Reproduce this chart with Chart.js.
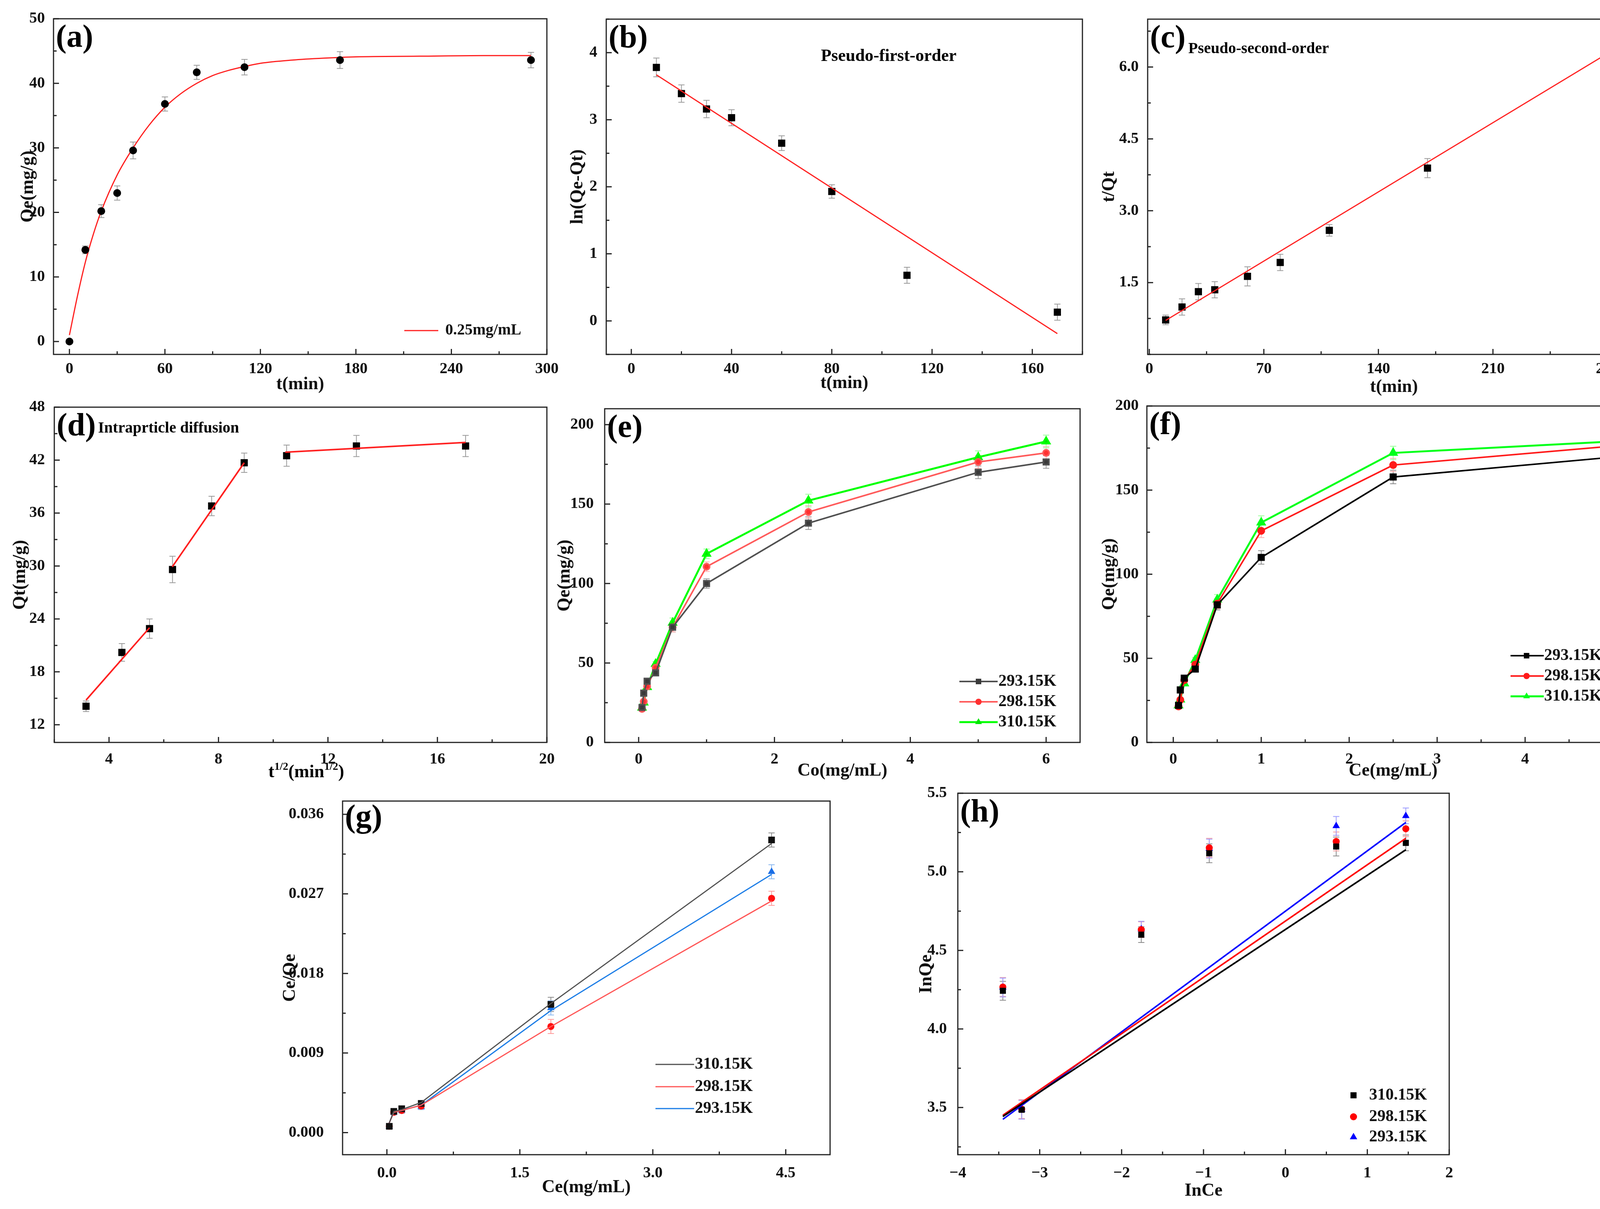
<!DOCTYPE html>
<html>
<head>
<meta charset="utf-8">
<script src="https://cdn.jsdelivr.net/npm/chart.js@4.4.1/dist/chart.umd.min.js"></script>
<style>
  html, body { margin: 0; padding: 0; background: #fff; }
  body { width: 4224px; height: 3094px; position: relative; overflow: hidden; }
  canvas { position: absolute; }
</style>
</head>
<body>
<script>
// ---------- (a) adsorption kinetics ----------
const tA = [0, 10, 20, 30, 40, 60, 80, 110, 170, 290];
const qtA = [0, 14.2, 20.2, 23.0, 29.6, 36.8, 41.7, 42.5, 43.6, 43.6];
const errA = [0.3, 0.6, 1.0, 1.1, 1.3, 1.1, 1.1, 1.2, 1.3, 1.2];
const fitTA = [0, 5, 10, 15, 20, 30, 40, 50, 60, 70, 80, 90, 100, 110, 120, 140, 160, 180, 220, 260, 290];
const fitQA = [1.0, 7.0, 12.3, 16.6, 20.2, 25.8, 30.0, 33.5, 36.3, 38.4, 40.0, 41.2, 42.0, 42.6, 43.1, 43.6, 43.9, 44.1, 44.2, 44.3, 44.3];

// ---------- (b) pseudo-first-order ----------
const tB = [10, 20, 30, 40, 60, 80, 110, 170];
const lnB = [3.78, 3.39, 3.16, 3.03, 2.65, 1.93, 0.68, 0.13];
const errB = [0.14, 0.13, 0.13, 0.12, 0.11, 0.1, 0.12, 0.12];
const fitTB = [10, 170];
const fitLnB = [3.67, -0.19];

// ---------- (c) pseudo-second-order ----------
const tC = [10, 20, 30, 40, 60, 80, 110, 170, 290];
const tqC = [0.72, 0.99, 1.31, 1.35, 1.63, 1.92, 2.59, 3.89, 6.63];
const errC = [0.1, 0.17, 0.17, 0.17, 0.2, 0.17, 0.12, 0.2, 0.12];
const fitTC = [10, 290];
const fitTqC = [0.71, 6.49];

// ---------- (d) intraparticle diffusion ----------
const rtD = [3.16, 4.47, 5.48, 6.32, 7.75, 8.94, 10.49, 13.04, 17.03];
const qtD = [14.1, 20.2, 22.9, 29.6, 36.8, 41.7, 42.5, 43.6, 43.6];
const errD = [0.6, 1.0, 1.1, 1.5, 1.1, 1.1, 1.2, 1.2, 1.2];
const seg1X = [3.16, 5.48], seg1Y = [14.8, 23.0];
const seg2X = [6.31, 8.94], seg2Y = [29.9, 41.7];
const seg3X = [10.44, 17.03], seg3Y = [42.9, 44.0];

// ---------- (e) Qe vs Co ----------
const temps = ['293.15K', '298.15K', '310.15K'];
const coE = [0.05, 0.075, 0.125, 0.25, 0.5, 1, 2.5, 5, 6];
const qe293E = [22.0, 31.0, 38.5, 43.8, 72.5, 100.0, 138.0, 170.0, 176.5];
const qe298E = [21.1, 25.7, 35.2, 47.0, 72.5, 110.6, 145.0, 176.5, 182.2];
const qe310E = [21.9, 25.1, 34.8, 49.4, 75.3, 118.7, 152.2, 179.5, 189.4];
const errE = [1, 1, 1.5, 1.5, 3, 3, 4, 4, 4];

// ---------- (f) Qe vs Ce ----------
const ceF = [0.06, 0.08, 0.125, 0.25, 0.5, 1, 2.5, 5];
const qe293F = [22.0, 31.2, 38.2, 43.6, 81.8, 110.0, 157.8, 169.6];
const qe298F = [21.4, 25.3, 37.0, 46.3, 82.5, 125.8, 164.9, 176.2];
const qe310F = [22.0, 25.5, 35.1, 49.0, 84.9, 130.7, 172.1, 178.9];
const errF = [1, 1, 1.5, 1.5, 3, 4, 4, 4];

// ---------- (g) Langmuir ----------
const tempsG = ['310.15K', '298.15K', '293.15K'];
const ceG = [0.027, 0.078, 0.167, 0.387, 1.85, 4.34];
const r310G = [0.00071, 0.0024, 0.0027, 0.0033, 0.0145, 0.0331];
const r298G = [0.00071, 0.0023, 0.0025, 0.0030, 0.0120, 0.0265];
const r293G = [0.00071, 0.0023, 0.0025, 0.0029, 0.0141, 0.0295];
const line310G = [0.0011, 0.0024, 0.0026, 0.0034, 0.0146, 0.0327];
const line298G = [0.0011, 0.0023, 0.0025, 0.0031, 0.0120, 0.0262];
const line293G = [0.0011, 0.0023, 0.0025, 0.0031, 0.0138, 0.0292];
const errG = [0.0002, 0.0003, 0.0003, 0.0003, 0.0008, 0.0008];

// ---------- (h) Freundlich ----------
const lnCeH = [-3.45, -3.22, -1.76, -0.93, 0.62, 1.47];
const ln310H = [4.243, 3.486, 4.60, 5.118, 5.161, 5.184];
const ln298H = [4.267, 3.49, 4.632, 5.153, 5.193, 5.274];
const ln293H = [4.264, 3.486, 4.635, 5.148, 5.292, 5.356];
const fitXH = [-3.45, 1.47];
const fit310H = [3.443, 5.14];
const fit298H = [3.451, 5.213];
const fit293H = [3.425, 5.314];
const errH = [0.06, 0.06, 0.05, 0.06, 0.06, 0.05];

// ---------- tick values ----------
const aXTicks = [0, 60, 120, 180, 240, 300], aYTicks = [0, 10, 20, 30, 40, 50];
const bXTicks = [0, 40, 80, 120, 160], bYTicks = [0, 1, 2, 3, 4];
const cXTicks = [0, 70, 140, 210, 280], cYTicks = [1.5, 3.0, 4.5, 6.0];
const dXTicks = [4, 8, 12, 16, 20], dYTicks = [12, 18, 24, 30, 36, 42, 48];
const eXTicks = [0, 2, 4, 6], eYTicks = [0, 50, 100, 150, 200];
const fXTicks = [0, 1, 2, 3, 4, 5], fYTicks = [0, 50, 100, 150, 200];
const gXTicks = [0, 1.5, 3.0, 4.5], gYTicks = [0, 0.009, 0.018, 0.027, 0.036];
const hXTicks = [-4, -3, -2, -1, 0, 1, 2], hYTicks = [3.5, 4.0, 4.5, 5.0, 5.5];

// ---------- layout (plot boxes in page pixels) ----------
const BOX = {
  a: [137, 44, 1400, 907], b: [1552, 44, 2771, 907], c: [2938, 44, 4199, 907],
  d: [139, 1036, 1400, 1900], e: [1548, 1036, 2765, 1900], f: [2936, 1036, 4197, 1900],
  g: [877, 2020, 2125, 2955], h: [2452, 2020, 3710, 2955]
};
const FAM = '"Liberation Serif", "Times New Roman", serif';
const TICK_FONT = { family: FAM, size: 40, weight: 'bold' };
const TITLE_FONT = { family: FAM, size: 46, weight: 'bold', lineHeight: 1.2 };

Chart.defaults.font.family = FAM;
Chart.defaults.font.weight = 'bold';
Chart.defaults.color = '#111';

const pts = (xs, ys) => xs.map((x, i) => ({ x: x, y: ys[i] }));

function drawSup(ctx, parts, cx, cy, size) {
  const big = `bold ${size}px ${FAM}`, small = `bold ${Math.round(size * 0.6)}px ${FAM}`;
  let w = 0;
  parts.forEach(p => { ctx.font = p.sup ? small : big; w += ctx.measureText(p.t).width; });
  let x = cx - w / 2;
  ctx.textAlign = 'left';
  ctx.textBaseline = 'alphabetic';
  parts.forEach(p => {
    ctx.font = p.sup ? small : big;
    ctx.fillText(p.t, x, p.sup ? cy + size * 0.32 - size * 0.4 : cy + size * 0.32);
    x += ctx.measureText(p.t).width;
  });
}

const deco = {
  id: 'deco',
  beforeDatasetsDraw(chart, args, o) {
    const ctx = chart.ctx, xs = chart.scales.x, ys = chart.scales.y;
    chart.data.datasets.forEach(ds => {
      if (!ds.err) return;
      ctx.save();
      ctx.strokeStyle = ds.errColor || '#9a9a9a';
      ctx.lineWidth = 2;
      ctx.beginPath();
      ds.data.forEach((p, j) => {
        const px = xs.getPixelForValue(p.x);
        const y1 = ys.getPixelForValue(p.y - ds.err[j]);
        const y2 = ys.getPixelForValue(p.y + ds.err[j]);
        ctx.moveTo(px, y1); ctx.lineTo(px, y2);
        ctx.moveTo(px - 8, y1); ctx.lineTo(px + 8, y1);
        ctx.moveTo(px - 8, y2); ctx.lineTo(px + 8, y2);
      });
      ctx.stroke();
      ctx.restore();
    });
  },
  afterDraw(chart, args, o) {
    const ctx = chart.ctx, ca = chart.chartArea, xs = chart.scales.x, ys = chart.scales.y;
    ctx.save();
    // inward ticks
    ctx.strokeStyle = '#222';
    ctx.lineWidth = 3;
    ctx.beginPath();
    const majX = xs.ticks.map(t => t.value), majY = ys.ticks.map(t => t.value);
    majX.forEach(v => { const p = xs.getPixelForValue(v); ctx.moveTo(p, ca.bottom); ctx.lineTo(p, ca.bottom - 14); });
    majY.forEach(v => { const p = ys.getPixelForValue(v); ctx.moveTo(ca.left, p); ctx.lineTo(ca.left + 14, p); });
    const minor = (sc, step, maj, fn) => {
      for (let k = Math.ceil(sc.min / step - 1e-6); k * step <= sc.max + 1e-9; k++) {
        const v = k * step;
        if (maj.some(m => Math.abs(m - v) < step * 1e-3)) continue;
        fn(sc.getPixelForValue(v));
      }
    };
    minor(xs, o.xMinor, majX, p => { ctx.moveTo(p, ca.bottom); ctx.lineTo(p, ca.bottom - 8); });
    minor(ys, o.yMinor, majY, p => { ctx.moveTo(ca.left, p); ctx.lineTo(ca.left + 8, p); });
    ctx.stroke();
    ctx.strokeRect(ca.left, ca.top, ca.width, ca.height);

    // panel letter
    ctx.fillStyle = '#000';
    ctx.font = `bold 82px ${FAM}`;
    ctx.textAlign = 'left';
    ctx.textBaseline = 'alphabetic';
    ctx.fillText(o.letter, ca.left + 6, ca.top + (o.letterY || 72));

    // notes
    (o.notes || []).forEach(n => {
      ctx.font = `bold ${n.size}px ${FAM}`;
      ctx.textAlign = n.align || 'left';
      ctx.textBaseline = 'middle';
      ctx.fillText(n.text, ca.left + n.x, ca.top + n.y);
    });

    // custom x title with superscripts
    if (o.supTitle) drawSup(ctx, o.supTitle.parts, ca.left + o.supTitle.x, ca.bottom + o.supTitle.y, 46);

    // legend
    if (o.legend) {
      const L = o.legend;
      L.items.forEach(it => {
        const y = ca.top + it.y;
        if (L.x1 != null) {
          ctx.strokeStyle = it.lineColor;
          ctx.lineWidth = it.lineWidth || 4;
          ctx.beginPath();
          ctx.moveTo(ca.left + L.x1, y); ctx.lineTo(ca.left + L.x2, y);
          ctx.stroke();
        }
        if (it.style) {
          ctx.fillStyle = it.color; ctx.strokeStyle = it.color;
          Chart.helpers.drawPoint(ctx, { pointStyle: it.style, radius: it.r, rotation: 0, borderWidth: 0 }, ca.left + L.mx, y);
        }
        ctx.fillStyle = '#111';
        ctx.font = `bold ${L.size}px ${FAM}`;
        ctx.textAlign = 'left';
        ctx.textBaseline = 'middle';
        ctx.fillText(it.text, ca.left + L.tx, y);
      });
    }
    ctx.restore();
  }
};
Chart.register(deco);

function axis(s, dir, size) {
  return {
    type: 'linear', min: s.min, max: s.max,
    grid: { display: false }, border: { display: false },
    afterBuildTicks: sc => { sc.ticks = s.ticks.map(v => ({ value: v })); },
    afterFit: sc => { if (dir === 'x') sc.height = size; else sc.width = size; },
    ticks: {
      padding: s.pad, color: '#111', font: TICK_FONT, autoSkip: false, maxRotation: 0,
      callback: v => s.fmt ? s.fmt(v) : String(v)
    },
    title: { display: !!s.title, text: s.title || '', padding: 0, color: '#111', font: TITLE_FONT }
  };
}

function makePanel(key, yW, xH, sx, sy, datasets, decoOpts) {
  const [l, t, r, b] = BOX[key];
  const padT = 34, padR = 44;
  const w = (r - l) + yW + padR, h = (b - t) + padT + xH;
  const cv = document.createElement('canvas');
  cv.width = w; cv.height = h;
  cv.style.left = (l - yW) + 'px'; cv.style.top = (t - padT) + 'px';
  cv.style.width = w + 'px'; cv.style.height = h + 'px';
  document.body.appendChild(cv);
  new Chart(cv, {
    type: 'scatter',
    data: { datasets },
    options: {
      responsive: false, animation: false, devicePixelRatio: 1, events: [],
      layout: { padding: { left: 0, top: padT, right: padR, bottom: 0 } },
      plugins: { legend: { display: false }, tooltip: { enabled: false }, deco: decoOpts },
      scales: { x: axis(sx, 'x', xH), y: axis(sy, 'y', yW) }
    }
  });
}

const scatterSet = (xs, ys, err, style, r, color, errColor) => ({
  data: pts(xs, ys), err: err, errColor: errColor, showLine: false,
  pointStyle: style, pointRadius: r, backgroundColor: color, borderColor: color, borderWidth: 0
});
const lineSet = (xs, ys, color, width, marker) => Object.assign({
  data: pts(xs, ys), showLine: true, borderColor: color, borderWidth: width,
  pointRadius: 0, backgroundColor: color, fill: false
}, marker || {});

// (a)
makePanel('a', 92, 105,
  { min: -10, max: 300, ticks: aXTicks, pad: 6, title: 't(min)' },
  { min: -2, max: 50, ticks: aYTicks, pad: 14, title: 'Qe(mg/g)' },
  [
    scatterSet(tA, qtA, errA, 'circle', 10, '#000'),
    lineSet(fitTA, fitQA, '#ff2020', 3, { cubicInterpolationMode: 'monotone' })
  ],
  { letter: '(a)', xMinor: 30, yMinor: 5,
    legend: { x1: 898, x2: 985, tx: 1003, size: 40,
      items: [{ y: 798, lineColor: '#ff2020', lineWidth: 3, text: '0.25mg/mL' }] } });

// (b)
makePanel('b', 100, 102,
  { min: -10, max: 180, ticks: bXTicks, pad: 6, title: 't(min)' },
  { min: -0.5, max: 4.5, ticks: bYTicks, pad: 15, title: 'ln(Qe-Qt)' },
  [
    lineSet(fitTB, fitLnB, '#ff2020', 3),
    scatterSet(tB, lnB, errB, 'rect', 13, '#000')
  ],
  { letter: '(b)', xMinor: 20, yMinor: 0.5,
    notes: [{ text: 'Pseudo-first-order', x: 723, y: 96, size: 44, align: 'center' }] });

// (c)
makePanel('c', 125, 112,
  { min: -1, max: 300, ticks: cXTicks, pad: 6, title: 't(min)' },
  { min: 0, max: 7, ticks: cYTicks, pad: 15, title: 't/Qt', fmt: v => v.toFixed(1) },
  [
    lineSet(fitTC, fitTqC, '#ff2020', 3),
    scatterSet(tC, tqC, errC, 'rect', 13, '#000')
  ],
  { letter: '(c)', xMinor: 35, yMinor: 0.75,
    notes: [{ text: 'Pseudo-second-order', x: 104, y: 77, size: 40 }] });

// (d)
makePanel('d', 114, 100,
  { min: 2, max: 20, ticks: dXTicks, pad: 12 },
  { min: 10, max: 48, ticks: dYTicks, pad: 16, title: 'Qt(mg/g)' },
  [
    lineSet(seg1X, seg1Y, '#ff2020', 4),
    lineSet(seg2X, seg2Y, '#ff2020', 4),
    lineSet(seg3X, seg3Y, '#ff2020', 4),
    scatterSet(rtD, qtD, errD, 'rect', 13, '#000')
  ],
  { letter: '(d)', xMinor: 2, yMinor: 3,
    notes: [{ text: 'Intraprticle diffusion', x: 112, y: 55, size: 40 }],
    supTitle: { x: 645, y: 74, parts: [{ t: 't' }, { t: '1/2', sup: true }, { t: '(min' }, { t: '1/2', sup: true }, { t: ')' }] } });

// (e)
const colE = { l293: '#505050', m293: '#3a3a3a', l298: '#ff5a5a', m298: '#ff3030', l310: '#00ff00', m310: '#00e600' };
makePanel('e', 129, 101,
  { min: -0.5, max: 6.5, ticks: eXTicks, pad: 12, title: 'Co(mg/mL)' },
  { min: 0, max: 210, ticks: eYTicks, pad: 20, title: 'Qe(mg/g)' },
  [
    lineSet(coE, qe293E, colE.l293, 4, { pointRadius: 10, pointStyle: 'rect', backgroundColor: colE.m293, err: errE, errColor: '#9a9a9a' }),
    lineSet(coE, qe298E, colE.l298, 4, { pointRadius: 8, pointStyle: 'circle', backgroundColor: colE.m298, err: errE, errColor: '#ffb0b0' }),
    lineSet(coE, qe310E, colE.l310, 5, { pointRadius: 10, pointStyle: 'triangle', backgroundColor: colE.m310, err: errE, errColor: '#9cff9c' })
  ],
  { letter: '(e)', xMinor: 1, yMinor: 25,
    legend: { x1: 908, x2: 1006, mx: 957, tx: 1008, size: 42,
      items: [
        { y: 698, lineColor: colE.l293, style: 'rect', r: 10, color: colE.m293, text: temps[0] },
        { y: 750, lineColor: colE.l298, style: 'circle', r: 8, color: colE.m298, text: temps[1] },
        { y: 802, lineColor: colE.l310, lineWidth: 5, style: 'triangle', r: 10, color: colE.m310, text: temps[2] }
      ] } });

// (f)
const colF = { c293: '#000000', c298: '#ff1a1a', c310: '#00ff1a' };
makePanel('f', 123, 101,
  { min: -0.3, max: 5.3, ticks: fXTicks, pad: 12, title: 'Ce(mg/mL)' },
  { min: 0, max: 200, ticks: fYTicks, pad: 13, title: 'Qe(mg/g)' },
  [
    lineSet(ceF, qe293F, colF.c293, 4, { pointRadius: 10, pointStyle: 'rect', err: errF, errColor: '#8a8a8a' }),
    lineSet(ceF, qe298F, colF.c298, 4, { pointRadius: 8, pointStyle: 'circle', err: errF, errColor: '#ffb0b0' }),
    lineSet(ceF, qe310F, colF.c310, 5, { pointRadius: 10, pointStyle: 'triangle', err: errF, errColor: '#9cff9c' })
  ],
  { letter: '(f)', xMinor: 0.5, yMinor: 25,
    legend: { x1: 931, x2: 1016, mx: 972, tx: 1017, size: 42,
      items: [
        { y: 639, lineColor: colF.c293, style: 'rect', r: 10, color: colF.c293, text: temps[0] },
        { y: 691, lineColor: colF.c298, style: 'circle', r: 8, color: colF.c298, text: temps[1] },
        { y: 743, lineColor: colF.c310, lineWidth: 5, style: 'triangle', r: 10, color: colF.c310, text: temps[2] }
      ] } });

// (g)
const colG = { l310: '#505050', m310: '#111111', l298: '#ff5555', m298: '#ff1010', l293: '#1a7ce6', m293: '#1a6ee6' };
makePanel('g', 161, 112,
  { min: -0.5, max: 5.0, ticks: gXTicks, pad: 16, title: 'Ce(mg/mL)', fmt: v => v.toFixed(1) },
  { min: -0.0025, max: 0.0375, ticks: gYTicks, pad: 40, title: 'Ce/Qe', fmt: v => v.toFixed(3) },
  [
    lineSet(ceG, line310G, colG.l310, 3),
    lineSet(ceG, line298G, colG.l298, 3),
    lineSet(ceG, line293G, colG.l293, 3),
    scatterSet(ceG, r310G, errG, 'rect', 12, colG.m310, '#8a8a8a'),
    scatterSet(ceG, r298G, errG, 'circle', 9, colG.m298, '#ff9a9a'),
    scatterSet(ceG, r293G, errG, 'triangle', 11, colG.m293, '#8ab8f0')
  ],
  { letter: '(g)', letterY: 66, xMinor: 0.75, yMinor: 0.0045,
    legend: { x1: 801, x2: 900, tx: 902, size: 42,
      items: [
        { y: 674, lineColor: colG.l310, lineWidth: 3, text: tempsG[0] },
        { y: 731, lineColor: colG.l298, lineWidth: 3, text: tempsG[1] },
        { y: 787, lineColor: colG.l293, lineWidth: 3, text: tempsG[2] }
      ] } });

// (h)
const colH = { c310: '#000000', c298: '#ff0000', c293: '#0000ff' };
makePanel('h', 107, 121,
  { min: -4, max: 2, ticks: hXTicks, pad: 16, title: 'InCe', fmt: v => (v < 0 ? '\u2212' + Math.abs(v) : String(v)) },
  { min: 3.2, max: 5.5, ticks: hYTicks, pad: 20, title: 'InQe', fmt: v => v.toFixed(1) },
  [
    lineSet(fitXH, fit310H, colH.c310, 4),
    lineSet(fitXH, fit298H, colH.c298, 4),
    lineSet(fitXH, fit293H, colH.c293, 4),
    scatterSet(lnCeH, ln310H, errH, 'rect', 11, colH.c310, '#8a8a8a'),
    scatterSet(lnCeH, ln298H, errH, 'circle', 9, colH.c298, '#ff9a9a'),
    scatterSet(lnCeH, ln293H, errH, 'triangle', 11, colH.c293, '#9a9aff')
  ],
  { letter: '(h)', xMinor: 0.5, yMinor: 0.25,
    legend: { mx: 1013, tx: 1053, size: 42,
      items: [
        { y: 773, style: 'rect', r: 11, color: colH.c310, text: tempsG[0] },
        { y: 828, style: 'circle', r: 9, color: colH.c298, text: tempsG[1] },
        { y: 880, style: 'triangle', r: 11, color: colH.c293, text: tempsG[2] }
      ] } });
</script>
</body>
</html>
